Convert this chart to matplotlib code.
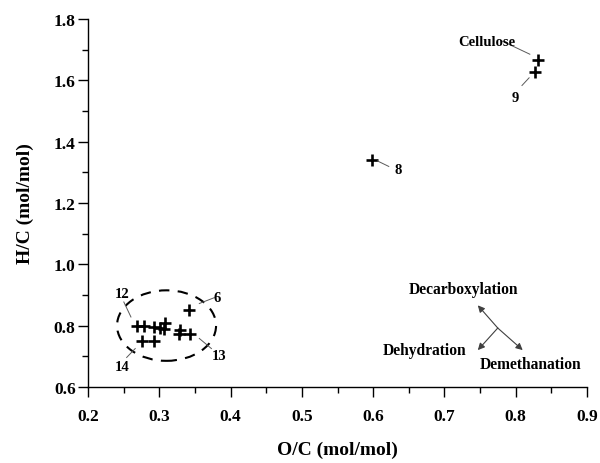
"""Van Krevelen style H/C vs O/C plot."""

import matplotlib.pyplot as plt
from matplotlib.patches import Ellipse

# data
oc_cluster = [0.342, 0.268, 0.278, 0.292, 0.301, 0.308, 0.306, 0.329, 0.343, 0.327, 0.275, 0.292]
hc_cluster = [0.852, 0.798, 0.798, 0.796, 0.793, 0.807, 0.790, 0.785, 0.774, 0.772, 0.750, 0.750]
oc_other = [0.598, 0.827, 0.832]
hc_other = [1.341, 1.627, 1.667]

# labels: (text, label x, label y, line start, line end)
labels = [
    ("12", 0.247, 0.903, (0.250, 0.877), (0.260, 0.828)),
    ("6", 0.381, 0.891, (0.356, 0.872), (0.377, 0.891)),
    ("13", 0.384, 0.703, (0.356, 0.758), (0.373, 0.725)),
    ("14", 0.247, 0.665, (0.254, 0.696), (0.266, 0.725)),
    ("8", 0.635, 1.308, (0.606, 1.337), (0.622, 1.319)),
    ("9", 0.800, 1.545, (0.819, 1.608), (0.809, 1.583)),
]

plt.rcParams["font.family"] = "Liberation Serif"
plt.rcParams["font.weight"] = "bold"

fig = plt.figure(figsize=(6, 4.64), dpi=100)
ax = fig.add_axes([0.147, 0.164, 0.831, 0.793])

ax.plot(oc_cluster, hc_cluster, "+", color="black", ms=9, mew=1.9)
ax.plot(oc_other, hc_other, "+", color="black", ms=9, mew=1.9)

ax.add_patch(Ellipse((0.31, 0.80), 0.139, 0.23, fill=False, ls=(0, (5, 4)),
                     lw=1.5, color="black"))

for txt, tx, ty, p0, p1 in labels:
    ax.plot([p0[0], p1[0]], [p0[1], p1[1]], color="0.35", lw=0.7)
    ax.text(tx, ty, txt, ha="center", va="center", fontsize=10.5,
            fontweight="bold")

# cellulose label and leader
ax.plot([0.781, 0.820], [1.728, 1.685], color="0.35", lw=0.7)
ax.text(0.760, 1.726, "Cellulose", ha="center", va="center", fontsize=10.5,
        fontweight="bold")

# reaction pathway arrows
c = (0.775, 0.792)
for end in [(0.747, 0.866), (0.810, 0.720), (0.747, 0.720)]:
    ax.annotate("", xy=end, xytext=c,
                arrowprops=dict(arrowstyle="-|>", color="0.25", lw=0.8,
                                mutation_scale=10, shrinkA=0, shrinkB=0))
ax.text(0.727, 0.920, "Decarboxylation", ha="center", va="center",
        fontsize=11.2, fontweight="bold")
ax.text(0.672, 0.720, "Dehydration", ha="center", va="center", fontsize=11.2,
        fontweight="bold")
ax.text(0.821, 0.676, "Demethanation", ha="center", va="center", fontsize=11.2,
        fontweight="bold")

ax.set_xlim(0.2, 0.9)
ax.set_ylim(0.6, 1.8)
ax.set_xticks([0.2, 0.3, 0.4, 0.5, 0.6, 0.7, 0.8, 0.9])
ax.set_yticks([0.6, 0.8, 1.0, 1.2, 1.4, 1.6, 1.8])
ax.set_xticks([0.25, 0.35, 0.45, 0.55, 0.65, 0.75, 0.85], minor=True)
ax.set_yticks([0.7, 0.9, 1.1, 1.3, 1.5, 1.7], minor=True)
ax.set_xticklabels(["0.2", "0.3", "0.4", "0.5", "0.6", "0.7", "0.8", "0.9"])
ax.set_yticklabels(["0.6", "0.8", "1.0", "1.2", "1.4", "1.6", "1.8"])
ax.tick_params(which="major", length=7, width=1, labelsize=12.5)
ax.tick_params(axis="x", which="major", pad=8)
ax.tick_params(axis="y", which="major", pad=2)
ax.tick_params(which="minor", length=4, width=1)

ax.spines["top"].set_visible(False)
ax.spines["right"].set_visible(False)
for s in ["left", "bottom"]:
    ax.spines[s].set_linewidth(1.0)

ax.set_xlabel("O/C (mol/mol)", fontsize=14, fontweight="bold", labelpad=12)
ax.set_ylabel("H/C (mol/mol)", fontsize=14, fontweight="bold", labelpad=14)

fig.savefig("out.png", dpi=100)
